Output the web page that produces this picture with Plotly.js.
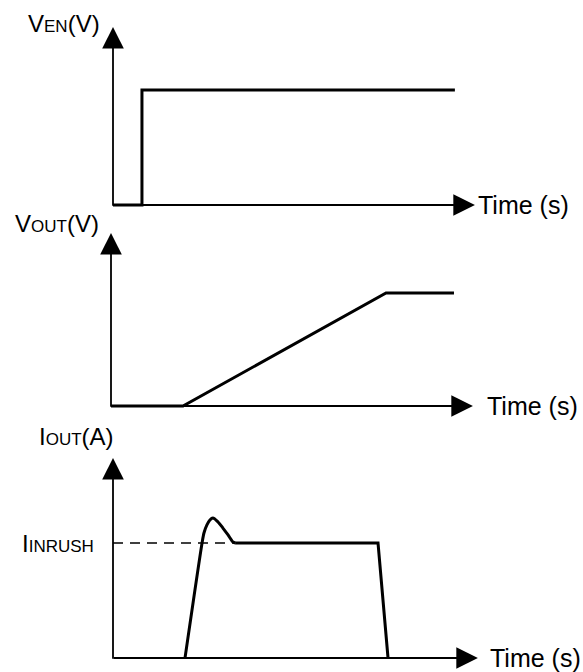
<!DOCTYPE html>
<html>
<head>
<meta charset="utf-8">
<script src="https://cdn.plot.ly/plotly-3.0.1.min.js"></script>
<style>html,body{margin:0;padding:0;background:#fff;}#chart{width:583px;height:672px;}</style>
</head>
<body>
<div id="chart"></div>
<script>
// ---- Data (time in arbitrary units, signals normalised) ----
// Panel 1: enable voltage
const enTime = [0, 1.07, 1.07, 12.63];
const enVolt = [0, 0, 1, 1];
// Panel 2: output voltage
const outTime = [0, 2.66, 10.16, 12.67];
const outVolt = [0, 0, 1, 1];
// Panel 3: output current (inrush) - rise and overshoot bump
const curRiseTime = [2.66, 3.29, 3.36, 3.47, 3.58, 3.69, 3.88, 4.06, 4.25, 4.43, 4.51];
const curRiseAmp  = [0, 1.0, 1.087, 1.157, 1.2, 1.217, 1.183, 1.13, 1.07, 1.009, 1.0];
// Panel 3: flat inrush phase and fall
const curTailTime = [4.51, 9.79, 10.16];
const curTailAmp  = [1.0, 1.0, 0];
const inrushLevel = [1.0, 1.0];
const inrushTime = [0, 4.51];
// axis extents (arrow tips) per panel
const timeAxisEnd = [13.37, 13.37, 13.48];
const valueAxisEnd = [1.548, 1.531, 1.739];
// labels
const valueLabels = ['V<span style="font-size:17px">EN</span>(V)',
                     'V<span style="font-size:17px">OUT</span>(V)',
                     'I<span style="font-size:17px">OUT</span>(A)'];
const timeLabel = 'Time (s)';
const inrushLabel = 'I<span style="font-size:17px">INRUSH</span>';

// ---- Layout geometry ----
const W = 583, H = 672;
const pxPerUnitX = 27.07;
const originPx = [[113, 205, 115], [111, 406, 113], [113, 658, 115]]; // [x px, y px, px per unit y]
function xr(ox) { return [-ox / pxPerUnitX, (W - ox) / pxPerUnitX]; }
function yr(oy, k) { return [-(H - oy) / k, oy / k]; }

const FONT = 'Liberation Sans, Arial, sans-serif';
const sig = {color: '#000', width: 3};

const traces = [
  {x: enTime, y: enVolt, xaxis: 'x', yaxis: 'y', mode: 'lines', line: sig},
  {x: outTime, y: outVolt, xaxis: 'x2', yaxis: 'y2', mode: 'lines', line: sig},
  {x: inrushTime, y: inrushLevel, xaxis: 'x3', yaxis: 'y3', mode: 'lines',
   line: {color: '#000', width: 1.6, dash: '10px,7px'}},
  {x: curRiseTime, y: curRiseAmp, xaxis: 'x3', yaxis: 'y3', mode: 'lines',
   line: {color: '#000', width: 3, shape: 'spline', smoothing: 0.8}},
  {x: curTailTime, y: curTailAmp, xaxis: 'x3', yaxis: 'y3', mode: 'lines', line: sig}
];

const layout = {
  width: W, height: H,
  margin: {l: 0, r: 0, t: 0, b: 0},
  paper_bgcolor: '#fff', plot_bgcolor: 'rgba(0,0,0,0)',
  showlegend: false,
  font: {family: FONT, size: 24, color: '#000'},
  annotations: []
};
const axIds = ['', '2', '3'];
axIds.forEach((id, i) => {
  const o = originPx[i];
  layout['xaxis' + id] = {domain: [0, 1], range: xr(o[0]), visible: false, fixedrange: true, anchor: 'y' + id};
  layout['yaxis' + id] = {domain: [0, 1], range: yr(o[1], o[2]), visible: false, fixedrange: true, anchor: 'x' + id};
  // time axis arrow
  layout.annotations.push({xref: 'x' + id, yref: 'y' + id, axref: 'x' + id, ayref: 'y' + id,
    x: timeAxisEnd[i], y: 0, ax: -0.03, ay: 0, text: '', showarrow: true,
    arrowhead: 2, arrowsize: 2.4, arrowwidth: 1.8, arrowcolor: '#000', standoff: 0, startstandoff: 0});
  // value axis arrow
  layout.annotations.push({xref: 'x' + id, yref: 'y' + id, axref: 'x' + id, ayref: 'y' + id,
    x: 0, y: valueAxisEnd[i], ax: 0, ay: -0.02, text: '', showarrow: true,
    arrowhead: 2, arrowsize: 2.4, arrowwidth: 1.8, arrowcolor: '#000', standoff: 0, startstandoff: 0});
});

function lbl(text, px, py, size) {
  return {xref: 'paper', yref: 'paper', x: px / W, y: 1 - py / H, xanchor: 'left', yanchor: 'middle',
    text: text, showarrow: false, font: {family: FONT, size: size, color: '#000'}, borderpad: 0};
}
layout.annotations.push(lbl(valueLabels[0], 27, 24, 24));
layout.annotations.push(lbl(valueLabels[1], 14, 223, 24));
layout.annotations.push(lbl(valueLabels[2], 38, 436, 24));
layout.annotations.push(lbl(inrushLabel, 21, 543, 24));
layout.annotations.push(lbl(timeLabel, 477, 205, 25));
layout.annotations.push(lbl(timeLabel, 486, 406, 25));
layout.annotations.push(lbl(timeLabel, 489, 658, 25));

Plotly.newPlot('chart', traces, layout, {staticPlot: true, displayModeBar: false});
</script>
</body>
</html>
